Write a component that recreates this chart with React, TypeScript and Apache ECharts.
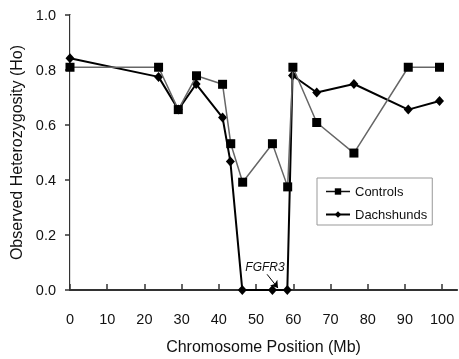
import React, { useEffect, useRef } from "react";
import * as echarts from "echarts";

const xTicks = [0, 10, 20, 30, 40, 50, 60, 70, 80, 90, 100];
const controlsX = [0, 23.8, 29.1, 34.0, 41.0, 43.2, 46.4, 54.4, 58.5, 59.9, 66.3, 76.3, 90.9, 99.3];
const controlsY = [0.81, 0.81, 0.656, 0.779, 0.748, 0.532, 0.392, 0.532, 0.375, 0.81, 0.609, 0.498, 0.81, 0.81];
const dachsX = [0, 23.8, 29.1, 33.9, 41.0, 43.1, 46.3, 54.4, 58.4, 59.8, 66.3, 76.3, 90.9, 99.3];
const dachsY = [0.843, 0.775, 0.656, 0.749, 0.627, 0.467, 0, 0, 0, 0.78, 0.718, 0.749, 0.656, 0.687];
const annotationText = "FGFR3";
const annotationTextPos = [52.4, 0.085];
const arrowStart = [52.96, 0.057];
const arrowEnd = [55.9, 0.007];

const FONT = "'Liberation Sans', Arial, sans-serif";

export default function App() {
  const ref = useRef<HTMLDivElement>(null);
  useEffect(() => {
    if (!ref.current) return;
    const chart = echarts.init(ref.current, null, { renderer: "svg" });
    const option: any = {
      animation: false,
      textStyle: { fontFamily: FONT },
      grid: { left: 70, top: 15, right: 2, bottom: 65, containLabel: false },
      legend: {
        orient: "vertical",
        left: 317,
        top: 178,
        data: [
          { name: "Controls", lineStyle: { color: "#111", width: 1.5 } },
          { name: "Dachshunds" },
        ],
        itemWidth: 24,
        itemHeight: 8,
        itemGap: 10,
        padding: [7, 5, 4, 8],
        borderColor: "#999",
        borderWidth: 1,
        textStyle: { fontSize: 13, color: "#111", fontFamily: FONT },
      },
      xAxis: [
        {
          type: "value",
          min: 0,
          max: 104,
          interval: 10,
          name: "Chromosome Position (Mb)",
          nameLocation: "middle",
          nameGap: 48,
          nameTextStyle: { fontSize: 16, color: "#111", fontFamily: FONT },
          splitLine: { show: false },
          axisLine: { lineStyle: { color: "#333", width: 2 } },
          axisTick: { show: true, inside: true, length: 6, lineStyle: { color: "#333", width: 1.5 }, customValues: xTicks },
          axisLabel: { margin: 21, fontSize: 14.5, color: "#111", customValues: xTicks },
        },
        {
          type: "value",
          position: "top",
          min: 0,
          max: 104,
          axisLine: { show: true, lineStyle: { color: "#333", width: 1.5 } },
          axisTick: { show: false },
          axisLabel: { show: false },
          splitLine: { show: false },
        },
      ],
      yAxis: [
        {
          type: "value",
          min: 0,
          max: 1,
          interval: 0.2,
          name: "Observed Heterozygosity (Ho)",
          nameLocation: "middle",
          nameGap: 43,
          nameTextStyle: { fontSize: 16, color: "#111", fontFamily: FONT },
          splitLine: { show: false },
          axisLine: { show: true, lineStyle: { color: "#333", width: 2 } },
          axisTick: { show: true, length: 5, lineStyle: { color: "#333", width: 1.5 } },
          axisLabel: { margin: 14, fontSize: 14.5, color: "#111", formatter: (v: number) => v.toFixed(1) },
        },
        {
          type: "value",
          position: "right",
          min: 0,
          max: 1,
          axisLine: { show: true, lineStyle: { color: "#ddd", width: 1 } },
          axisTick: { show: false },
          axisLabel: { show: false },
          splitLine: { show: false },
        },
      ],
      series: [
        {
          name: "Controls",
          type: "line",
          z: 3,
          data: controlsX.map((x, i) => [x, controlsY[i]]),
          symbol: "rect",
          symbolSize: 9,
          itemStyle: { color: "#000" },
          lineStyle: { color: "#666", width: 1.5 },
        },
        {
          name: "Dachshunds",
          type: "line",
          z: 2,
          data: dachsX.map((x, i) => [x, dachsY[i]]),
          symbol: "diamond",
          symbolSize: [9, 10],
          itemStyle: { color: "#000" },
          lineStyle: { color: "#000", width: 2 },
          markLine: {
            silent: true,
            symbol: ["none", "arrow"],
            symbolSize: 7,
            label: { show: false },
            lineStyle: { color: "#000", width: 1, type: "solid" },
            data: [[{ coord: arrowStart }, { coord: arrowEnd }]],
          },
        },
      ],
    };
    chart.setOption(option);
    const p = chart.convertToPixel({ gridIndex: 0 }, annotationTextPos) as number[];
    chart.setOption({
      graphic: [
        {
          type: "text",
          x: p[0],
          y: p[1],
          style: {
            text: annotationText,
            font: `italic 12px ${FONT}`,
            fill: "#111",
            textAlign: "center",
            textVerticalAlign: "middle",
          },
        },
      ],
    });
    return () => chart.dispose();
  }, []);
  return <div ref={ref} style={{ position: "fixed", left: 0, top: 0, width: 459, height: 359 }} />;
}
